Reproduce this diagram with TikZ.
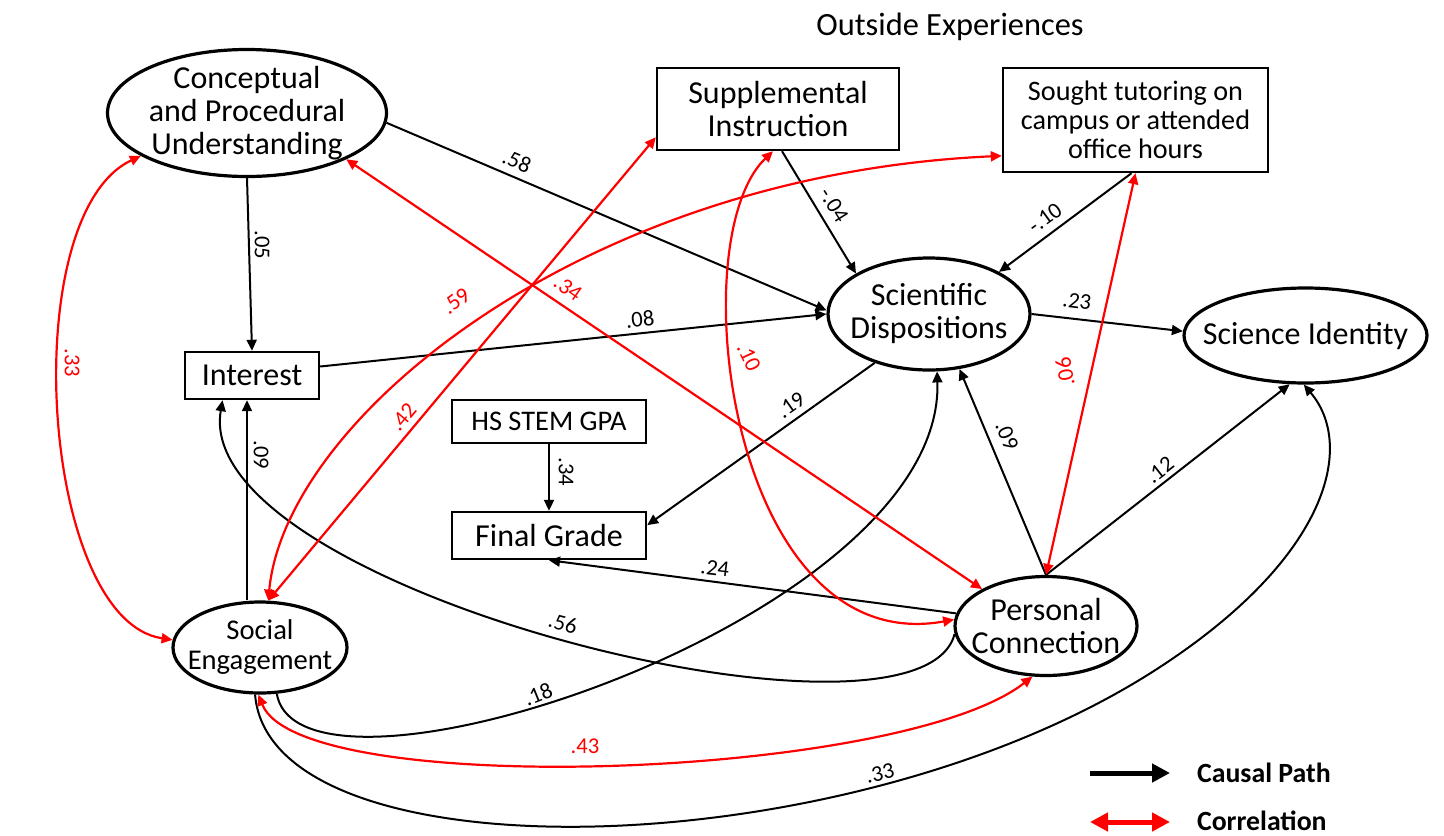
\documentclass[tikz,border=0pt]{standalone}
\usepackage{fontspec}
\setmainfont{Carlito}
\usetikzlibrary{shapes.geometric,arrows.meta}

\begin{document}
\begin{tikzpicture}[x=0.5pt,y=-0.5pt,
  oval/.style={ellipse, draw=black, line width=1.6pt, inner xsep=-30pt, inner ysep=-15pt, align=center, font=\fontsize{16}{16.5}\selectfont},
  box/.style={rectangle, draw=black, line width=1.2pt, inner sep=0pt, align=center, font=\fontsize{16}{16.5}\selectfont},
  causal/.style={-{Triangle[length=5.5pt,width=5pt]}, line width=1pt, black},
  corr/.style={{Triangle[length=5.5pt,width=5pt]}-{Triangle[length=5.5pt,width=5pt]}, line width=1.1pt, red},
  wt/.style={font=\fontsize{11.3}{12}\selectfont, inner sep=0.5pt},
  rwt/.style={wt, text=red},
  legtext/.style={anchor=west, font=\fontsize{13.9}{15}\bfseries}]
\useasboundingbox (0,0) rectangle (1444,835);

% latent and observed variables
\node [oval, minimum width=139.5pt, minimum height=63.5pt] (cu) at (247,113) {Conceptual\\and Procedural\\Understanding};
\node [box, minimum width=67pt, minimum height=23.5pt] (int) at (252,375.5) {Interest};
\node [box, minimum width=121pt, minimum height=41pt] (si) at (778,109) {Supplemental\\Instruction};
\node [box, minimum width=132.5pt, minimum height=52pt, font=\fontsize{14.1}{14.5}\selectfont] (st) at (1135.5,120) {Sought tutoring on\\campus or attended\\office hours};
\node [oval, minimum width=101pt, minimum height=56pt] (sd) at (929,314) {Scientific\\Dispositions};
\node [oval, minimum width=121.5pt, minimum height=47.5pt] (sid) at (1305.5,335.5) {Science Identity};
\node [box, minimum width=97pt, minimum height=21.5pt, font=\fontsize{14.2}{15}\selectfont] (hs) at (549,421.5) {HS STEM GPA};
\node [box, minimum width=97pt, minimum height=23.5pt] (fg) at (549,535.5) {Final Grade};
\node [oval, minimum width=87pt, minimum height=45.5pt, font=\fontsize{14.3}{15}\selectfont] (se) at (260,647.5) {Social\\Engagement};
\node [oval, minimum width=91pt, minimum height=49.5pt] (pc) at (1046,626) {Personal\\Connection};
\node [font=\fontsize{16.2}{17}\selectfont] (oe) at (950,27) {Outside Experiences};
\coordinate (bend33) at (1160,667);

% causal paths
\draw [causal] (cu.-4) -- (sd.178);
\draw [causal] (cu.south) -- (int.north);
\draw [causal] ([yshift=4.5pt]int.east) -- (sd.west);
\draw [causal] ([xshift=2pt]si.south) -- (sd.151);
\draw [causal] ([xshift=-2pt]st.south) -- (sd.31);
\draw [causal] (sd.east) -- (sid.178);
\draw [causal] (sd.-138) -- (fg.6);
\draw [causal] (hs.south) -- (fg.north);
\draw [causal] (pc.172) -- (fg.south);
\draw [causal] ([xshift=-6.5pt]se.north) -- ([xshift=-2.5pt]int.south);
\draw [causal] (pc.185) .. controls (920,770) and (190,590) .. (int.-140);
\draw [causal] (se.-70) .. controls (300,830) and (945,620) .. (sd.-82);
\draw [causal] (se.-96) .. controls (270,880) and (850,870) .. (bend33) .. controls (1330,556) and (1355,445) .. (sid.-92);
\draw [causal] (pc.north) -- (sd.-61);
\draw [causal] (pc.north) -- (sid.-108);

% correlations
\draw [corr] (se.175) .. controls (40,620) and (15,215) .. (cu.202);
\draw [corr] (cu.-25) -- (pc.150);
\draw [corr] (se.80) .. controls (285,420) and (580,175) .. (st.195.6);
\draw [corr] (se.80) -- (si.193);
\draw [corr] ([xshift=-2.5pt]si.south) .. controls (680,240) and (730,660) .. (pc.176);
\draw [corr] (pc.north) -- (st.south);
\draw [corr] (se.-92) .. controls (300,800) and (900,780) .. (pc.-105);

% path weights
\node [wt, rotate=-23] (w58) at (517,161) {.58};
\node [wt, rotate=-90] (w05) at (262,245) {.05};
\node [wt, rotate=6] (w08) at (640,319) {.08};
\node [wt, rotate=-58] (w04) at (834,205) {-.04};
\node [wt, rotate=36] (w10) at (1045,218) {-.10};
\node [wt, rotate=-7] (w23) at (1077,301) {.23};
\node [wt, rotate=35] (w19) at (791,405) {.19};
\node [wt, rotate=-90] (w34) at (566,472) {.34};
\node [wt, rotate=-7] (w24) at (715,568) {.24};
\node [wt, rotate=-15] (w56) at (563,623) {.56};
\node [wt, rotate=22] (w18) at (538,694) {.18};
\node [wt, rotate=13] (w33) at (880,773) {.33};
\node [wt, rotate=-90] (w09a) at (261,455) {.09};
\node [wt, rotate=-67] (w09b) at (1007,436) {.09};
\node [wt, rotate=38] (w12) at (1160,470) {.12};
\node [rwt, rotate=-90] (r33) at (72,363) {.33};
\node [rwt, rotate=-35] (r34) at (568,288) {.34};
\node [rwt, rotate=37] (r59) at (456,301) {.59};
\node [rwt, rotate=50] (r42) at (403,417) {.42};
\node [rwt, rotate=-65] (r10) at (749,357) {.10};
\node [rwt, rotate=100] (r06) at (1065,372) {.06};
\node [rwt] (r43) at (585,746) {.43};

% legend
\coordinate (ca) at (1090,773);
\coordinate (cb) at (1170,773);
\coordinate (ra) at (1090,822);
\coordinate (rb) at (1170,822);
\draw [line width=2.5pt, -{Triangle[length=9pt,width=9pt]}] (ca) -- (cb);
\draw [line width=2.5pt, red, {Triangle[length=9pt,width=9pt]}-{Triangle[length=9pt,width=9pt]}] (ra) -- (rb);
\node [legtext] (lc) at (1190,773) {Causal Path};
\node [legtext] (lr) at (1190,821) {Correlation};
\end{tikzpicture}
\end{document}
